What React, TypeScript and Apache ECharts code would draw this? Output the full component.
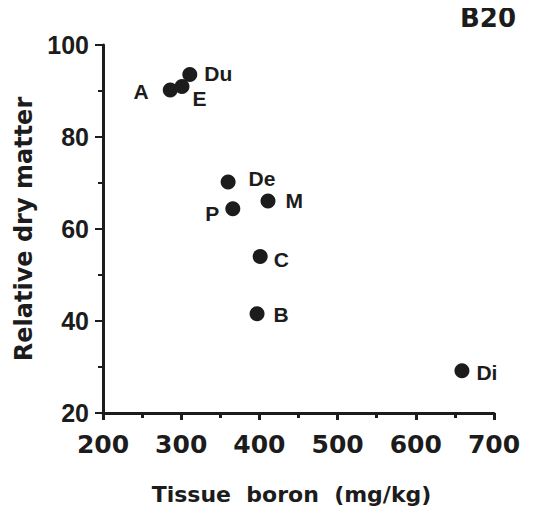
import React, { useEffect, useRef } from "react";
import * as echarts from "echarts";

const pointNames = ["A", "E", "Du", "De", "P", "M", "C", "B", "Di"];
const tissueBoron = [286, 301, 311, 360, 366, 411, 401, 397, 659];
const relativeDryMatter = [90.2, 91.0, 93.6, 70.2, 64.4, 66.1, 54.0, 41.6, 29.2];
const xTicks = [200, 300, 400, 500, 600, 700];
const yTicks = [20, 40, 60, 80, 100];

const FONT = "'Liberation Sans', Arial, Helvetica, sans-serif";
const WIDE = "'DejaVu Sans', Verdana, sans-serif";
const INK = "#1c1c1c";

const labelPlacement: Record<string, any> = {
  A: { position: "left", distance: 14, offset: [0, 1] },
  E: { position: "right", distance: 3, offset: [0, 12] },
  Du: { position: "right", distance: 7, offset: [0, -1] },
  De: { position: "right", distance: 13, offset: [0, -4] },
  P: { position: "left", distance: 6, offset: [0, 5] },
  M: { position: "right", distance: 10, offset: [0, 0] },
  C: { position: "right", distance: 6, offset: [0, 3] },
  B: { position: "right", distance: 9, offset: [0, 1] },
  Di: { position: "right", distance: 7, offset: [0, 2] },
};

export default function App() {
  const ref = useRef<HTMLDivElement>(null);
  useEffect(() => {
    if (!ref.current) return;
    const chart = echarts.init(ref.current, undefined, { renderer: "svg" });
    const data = pointNames.map((n, i) => ({
      name: n,
      value: [tissueBoron[i], relativeDryMatter[i]],
      label: { show: true, formatter: n, ...labelPlacement[n] },
    }));
    chart.setOption({
      animation: false,
      backgroundColor: "#ffffff",
      textStyle: { fontFamily: FONT },
      grid: { left: 103, right: 58, top: 45, bottom: 106, containLabel: false },
      graphic: [
        {
          type: "text",
          right: 36,
          top: 5,
          style: {
            text: "B20",
            font: `bold 26px ${WIDE}`,
            fill: INK,
          },
        },
      ],
      xAxis: {
        type: "value",
        min: 200,
        max: 700,
        interval: 100,
        name: "Tissue  boron  (mg/kg)",
        nameLocation: "middle",
        nameGap: 70,
        nameTextStyle: {
          fontSize: 22,
          fontWeight: "bold",
          color: INK,
          fontFamily: WIDE,
          padding: [0, 14, 0, 0],
        },
        axisLine: { show: true, onZero: false, lineStyle: { color: INK, width: 3 } },
        axisTick: { show: true, inside: false, length: 7, lineStyle: { color: INK, width: 3 } },
        minorTick: { show: true, splitNumber: 2, length: 5, lineStyle: { color: INK, width: 3 } },
        splitLine: { show: false },
        axisLabel: {
          margin: 19,
          fontSize: 25,
          fontWeight: "bold",
          color: INK,
          fontFamily: WIDE,
          formatter: (v: number) => (xTicks.includes(v) ? String(v) : ""),
        },
      },
      yAxis: {
        type: "value",
        min: 20,
        max: 100,
        interval: 20,
        name: "Relative dry matter",
        nameLocation: "middle",
        nameGap: 65,
        nameRotate: 90,
        nameTextStyle: { fontSize: 24, fontWeight: "bold", color: INK, fontFamily: WIDE },
        axisLine: { show: true, onZero: false, lineStyle: { color: INK, width: 3 } },
        axisTick: { show: true, inside: false, length: 8, lineStyle: { color: INK, width: 2 } },
        minorTick: { show: true, splitNumber: 2, length: 5, lineStyle: { color: INK, width: 2 } },
        splitLine: { show: false },
        axisLabel: {
          margin: 14,
          fontSize: 25,
          fontWeight: "bold",
          color: INK,
          fontFamily: FONT,
          formatter: (v: number) => (yTicks.includes(v) ? String(v) : ""),
        },
      },
      series: [
        {
          type: "scatter",
          symbol: "circle",
          symbolSize: 15,
          itemStyle: { color: INK, opacity: 1 },
          label: {
            fontSize: 21,
            fontWeight: "bold",
            color: INK,
            opacity: 1,
            fontFamily: FONT,
          },
          data,
        },
      ],
    });
    return () => chart.dispose();
  }, []);
  return <div ref={ref} style={{ width: 552, height: 519, margin: -8 }} />;
}
